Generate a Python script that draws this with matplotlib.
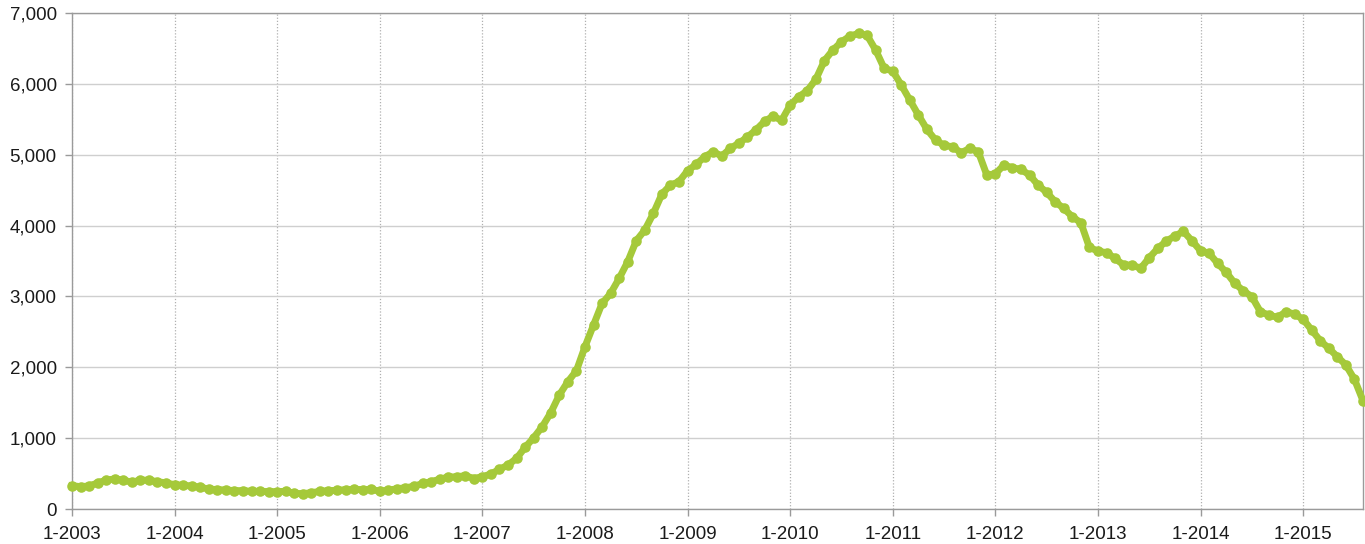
import matplotlib
matplotlib.use("Agg")
import matplotlib.pyplot as plt
from matplotlib.ticker import FuncFormatter, MultipleLocator

years = list(range(2003, 2016))
tick_labels = [f"1-{y}" for y in years]

v2003 = [329, 315, 325, 367, 409, 423, 409, 376, 409, 405, 386, 367]
v2004 = [343, 334, 325, 306, 282, 273, 268, 259, 259, 249, 249, 245]
v2005 = [245, 249, 221, 216, 230, 249, 259, 263, 273, 278, 273, 278]
v2006 = [250, 265, 285, 300, 320, 360, 385, 420, 450, 455, 470, 430]
v2007 = [456, 494, 560, 621, 715, 870, 1006, 1162, 1359, 1609, 1797, 1952]
v2008 = [2291, 2596, 2902, 3043, 3255, 3490, 3786, 3937, 4172, 4445, 4572, 4619]
v2009 = [4774, 4863, 4971, 5042, 4981, 5089, 5163, 5250, 5350, 5470, 5544, 5485]
v2010 = [5700, 5818, 5903, 6063, 6326, 6477, 6594, 6674, 6712, 6684, 6477, 6218]
v2011 = [6180, 5982, 5771, 5559, 5357, 5207, 5132, 5112, 5028, 5089, 5042, 4713]
v2012 = [4730, 4854, 4816, 4793, 4713, 4572, 4468, 4336, 4242, 4125, 4040, 3692]
v2013 = [3640, 3617, 3537, 3443, 3443, 3396, 3546, 3678, 3781, 3852, 3918, 3784]
v2014 = [3645, 3608, 3467, 3340, 3185, 3080, 2996, 2784, 2737, 2705, 2784, 2751]
v2015 = [2676, 2526, 2375, 2267, 2149, 2032, 1830, 1528]

values = (v2003 + v2004 + v2005 + v2006 + v2007 + v2008 + v2009 + v2010 +
          v2011 + v2012 + v2013 + v2014 + v2015)
months = list(range(len(values)))

plt.rcParams['font.family'] = ['Liberation Sans', 'DejaVu Sans']

fig = plt.figure(figsize=(13.65, 5.44), dpi=100)
ax = fig.add_axes([72 / 1365, 1 - 509 / 544, (1363 - 72) / 1365, (509 - 13) / 544])

color = '#a5c93a'
ax.plot(months, values, color=color, linewidth=5.0, marker='o', markersize=7.6,
        markeredgewidth=0, solid_joinstyle='round', clip_on=False, zorder=3)

ax.set_xlim(0, len(values) - 1)
ax.set_ylim(0, 7000)
ax.set_xticks([12 * i for i in range(len(years))])
ax.set_xticklabels(tick_labels)
ax.yaxis.set_major_locator(MultipleLocator(1000))
ax.yaxis.set_major_formatter(FuncFormatter(lambda v, p: f"{int(v):,}"))

ax.grid(axis='y', color='#cfcfcf', linewidth=1.0, linestyle='-')
ax.grid(axis='x', color='#b0b0b0', linewidth=0.9, linestyle=(0, (1, 1.5)))
ax.set_axisbelow(True)

for s in ax.spines.values():
    s.set_color('#9a9a9a')
    s.set_linewidth(1.0)

ax.tick_params(axis='both', colors='#9a9a9a', labelcolor='#1a1a1a',
               labelsize=13.5, length=5, width=1, direction='out')
ax.tick_params(axis='y', pad=6)
ax.tick_params(axis='x', pad=7)

fig.savefig('out.png', dpi=100)
